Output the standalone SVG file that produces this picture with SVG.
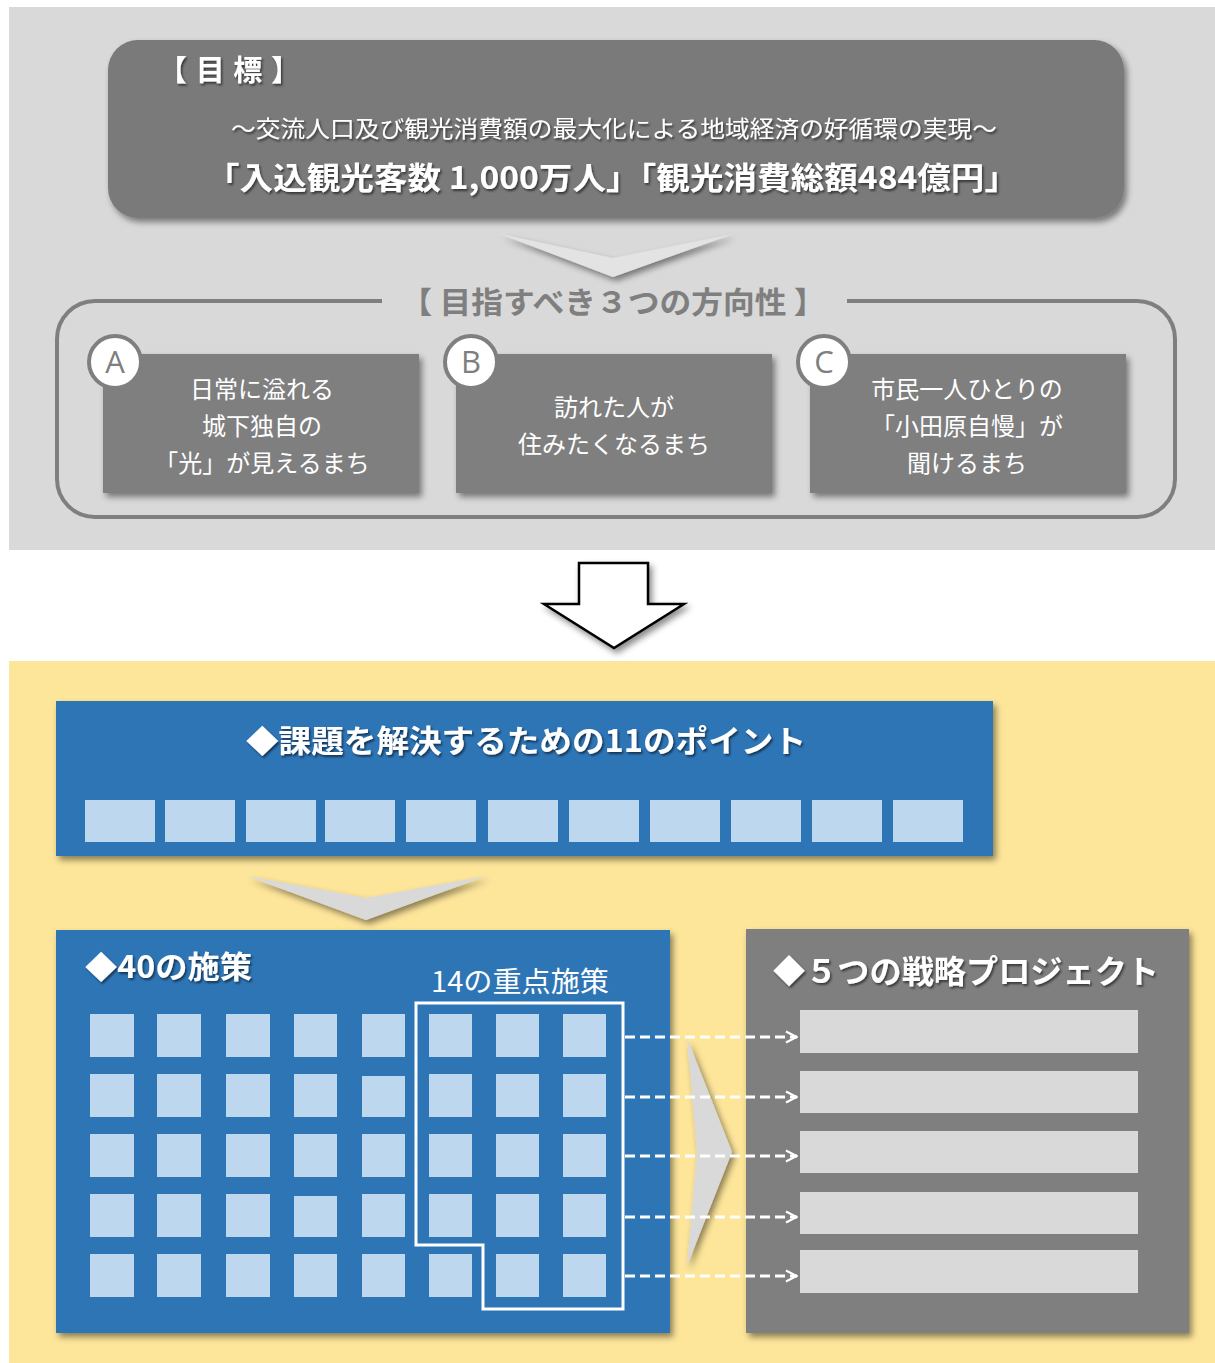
<svg xmlns="http://www.w3.org/2000/svg" width="1215" height="1363" viewBox="0 0 1215 1363">
<defs>
<filter id="sh" x="-10%" y="-10%" width="130%" height="130%"><feDropShadow dx="3" dy="4" stdDeviation="3" flood-color="#000" flood-opacity="0.45"/></filter>
<filter id="tsh" x="-5%" y="-20%" width="110%" height="150%"><feDropShadow dx="1.5" dy="2" stdDeviation="1.2" flood-color="#000" flood-opacity="0.55"/></filter>
<marker id="arr" viewBox="0 0 14 14" refX="13" refY="7" markerWidth="14" markerHeight="14" markerUnits="userSpaceOnUse" orient="auto"><path d="M2,1.5 L12.5,7 L2,12.5" fill="none" stroke="#fff" stroke-width="2.2"/></marker>
</defs>
<style>
.jp{font-family:"Noto Sans CJK JP","Noto Sans",sans-serif}
.wt{fill:#fff}
.card{fill:#7f7f7f}
.ctext{font-size:24px;fill:#fff;text-anchor:middle}
.circ{fill:#fff;stroke:#7f7f7f;stroke-width:4}
.lbl{font-family:"Open Sans","Liberation Sans",sans-serif;font-size:31px;fill:#7f7f7f;text-anchor:middle}
.sq{fill:#bdd7ee}
.bar{fill:#d9d9d9}
.dash{stroke:#fff;stroke-width:3;stroke-dasharray:10,5;fill:none}
</style>
<rect x="0" y="0" width="1215" height="1363" fill="#fff"/>
<rect x="9" y="7" width="1206" height="543" fill="#d9d9d9"/>
<rect x="9" y="661" width="1206" height="702" fill="#fde59a"/>

<g id="goal">
<rect x="108" y="40" width="1016" height="178" rx="30" fill="#7a7a7a" filter="url(#sh)"/>
<text class="jp wt" x="158" y="81" font-size="29" font-weight="bold" textLength="142" lengthAdjust="spacing" filter="url(#tsh)">【目標】</text>
<text class="jp wt" x="614" y="137" font-size="23" text-anchor="middle" textLength="766" lengthAdjust="spacingAndGlyphs" filter="url(#tsh)">～交流人口及び観光消費額の最大化による地域経済の好循環の実現～</text>
<text class="jp wt" x="612" y="189" font-size="31" font-weight="bold" text-anchor="middle" textLength="812" lengthAdjust="spacingAndGlyphs" filter="url(#tsh)">「入込観光客数 1,000万人」「観光消費総額484億円」</text>
</g>

<g id="chevron1">
<polygon points="500,234 613,258 733,234 613,277" fill="#e3e3e3" filter="url(#sh)"/>
</g>

<g id="directions">
<path d="M382,301 H95 A38,38 0 0 0 57,339 V479 A38,38 0 0 0 95,517 H1137 A38,38 0 0 0 1175,479 V339 A38,38 0 0 0 1137,301 H847" fill="none" stroke="#7f7f7f" stroke-width="4"/>
<text class="jp" x="613" y="313" font-size="30" font-weight="bold" fill="#7f7f7f" text-anchor="middle" textLength="425" lengthAdjust="spacingAndGlyphs">【 目指すべき３つの方向性 】</text>
</g>

<g id="cardA">
<rect class="card" x="103" y="354" width="316" height="139" filter="url(#sh)"/>
<circle class="circ" cx="115" cy="362" r="26"/>
<text class="lbl" x="115" y="373">A</text>
<text class="jp ctext" x="262" y="398">日常に溢れる</text>
<text class="jp ctext" x="262" y="435">城下独自の</text>
<text class="jp ctext" x="262" y="472">「光」が見えるまち</text>
</g>
<g id="cardB">
<rect class="card" x="456" y="354" width="316" height="139" filter="url(#sh)"/>
<circle class="circ" cx="471" cy="362" r="26"/>
<text class="lbl" x="471" y="373">B</text>
<text class="jp ctext" x="614" y="416">訪れた人が</text>
<text class="jp ctext" x="614" y="453">住みたくなるまち</text>
</g>
<g id="cardC">
<rect class="card" x="810" y="354" width="316" height="139" filter="url(#sh)"/>
<circle class="circ" cx="824" cy="362" r="26"/>
<text class="lbl" x="824" y="373">C</text>
<text class="jp ctext" x="967" y="398">市民一人ひとりの</text>
<text class="jp ctext" x="967" y="435">「小田原自慢」が</text>
<text class="jp ctext" x="967" y="472">聞けるまち</text>
</g>

<g id="bigArrow">
<polygon points="579,563 648,563 648,604 684,604 614,648 544,604 579,604" fill="#fff" stroke="#000" stroke-width="2.5" stroke-linejoin="miter" filter="url(#sh)"/>
</g>

<g id="points11">
<rect x="56" y="701" width="937" height="155" fill="#2e75b6" filter="url(#sh)"/>
<text class="jp wt" x="526" y="752" font-size="31" font-weight="bold" text-anchor="middle" textLength="560" lengthAdjust="spacingAndGlyphs" filter="url(#tsh)">◆課題を解決するための11のポイント</text>
<rect class="sq" x="85" y="800" width="70" height="42"/>
<rect class="sq" x="165" y="800" width="70" height="42"/>
<rect class="sq" x="246" y="800" width="70" height="42"/>
<rect class="sq" x="325" y="800" width="70" height="42"/>
<rect class="sq" x="406" y="800" width="70" height="42"/>
<rect class="sq" x="488" y="800" width="70" height="42"/>
<rect class="sq" x="569" y="800" width="70" height="42"/>
<rect class="sq" x="650" y="800" width="70" height="42"/>
<rect class="sq" x="731" y="800" width="70" height="42"/>
<rect class="sq" x="812" y="800" width="70" height="42"/>
<rect class="sq" x="893" y="800" width="70" height="42"/>
</g>

<g id="chevron2">
<polygon points="247,876 366,898 486,876 366,920" fill="#d9d9d9" filter="url(#sh)"/>
</g>

<g id="measures40">
<rect x="56" y="930" width="614" height="403" fill="#2e75b6" filter="url(#sh)"/>
<text class="jp wt" x="85" y="978" font-size="31" font-weight="bold" textLength="167" lengthAdjust="spacingAndGlyphs" filter="url(#tsh)">◆40の施策</text>
<text class="jp wt" x="431" y="992" font-size="28" textLength="178" lengthAdjust="spacingAndGlyphs">14の重点施策</text>
<g>
<rect class="sq" x="90" y="1014" width="44" height="43"/><rect class="sq" x="157" y="1014" width="44" height="43"/><rect class="sq" x="226" y="1014" width="44" height="43"/><rect class="sq" x="294" y="1014" width="43" height="43"/><rect class="sq" x="362" y="1014" width="43" height="43"/><rect class="sq" x="429" y="1014" width="43" height="43"/><rect class="sq" x="496" y="1014" width="43" height="43"/><rect class="sq" x="563" y="1014" width="43" height="43"/>
<rect class="sq" x="90" y="1074" width="44" height="43"/><rect class="sq" x="157" y="1074" width="44" height="43"/><rect class="sq" x="226" y="1074" width="44" height="43"/><rect class="sq" x="294" y="1074" width="43" height="43"/><rect class="sq" x="362" y="1076" width="43" height="41"/><rect class="sq" x="429" y="1074" width="43" height="43"/><rect class="sq" x="496" y="1074" width="43" height="43"/><rect class="sq" x="563" y="1074" width="43" height="43"/>
<rect class="sq" x="90" y="1134" width="44" height="43"/><rect class="sq" x="157" y="1134" width="44" height="43"/><rect class="sq" x="226" y="1134" width="44" height="43"/><rect class="sq" x="294" y="1134" width="43" height="43"/><rect class="sq" x="362" y="1134" width="43" height="43"/><rect class="sq" x="429" y="1134" width="43" height="43"/><rect class="sq" x="496" y="1134" width="43" height="43"/><rect class="sq" x="563" y="1134" width="43" height="43"/>
<rect class="sq" x="90" y="1194" width="44" height="43"/><rect class="sq" x="157" y="1194" width="44" height="43"/><rect class="sq" x="226" y="1194" width="44" height="43"/><rect class="sq" x="294" y="1196" width="43" height="41"/><rect class="sq" x="362" y="1194" width="43" height="43"/><rect class="sq" x="429" y="1194" width="43" height="43"/><rect class="sq" x="496" y="1194" width="43" height="43"/><rect class="sq" x="563" y="1194" width="43" height="43"/>
<rect class="sq" x="90" y="1254" width="44" height="43"/><rect class="sq" x="157" y="1254" width="44" height="43"/><rect class="sq" x="226" y="1254" width="44" height="43"/><rect class="sq" x="294" y="1254" width="43" height="43"/><rect class="sq" x="362" y="1254" width="43" height="43"/><rect class="sq" x="429" y="1254" width="43" height="43"/><rect class="sq" x="496" y="1254" width="43" height="43"/><rect class="sq" x="563" y="1254" width="43" height="43"/>
</g>
<polygon points="416,1003 623,1003 623,1309 483,1309 483,1245 416,1245" fill="none" stroke="#fff" stroke-width="3"/>
</g>

<g id="projects5">
<rect x="746" y="929" width="443" height="404" fill="#7f7f7f" filter="url(#sh)"/>
<text class="jp wt" x="773" y="983" font-size="32" font-weight="bold" textLength="386" lengthAdjust="spacingAndGlyphs" filter="url(#tsh)">◆５つの戦略プロジェクト</text>
<rect class="bar" x="800" y="1010" width="338" height="43"/>
<rect class="bar" x="800" y="1071" width="338" height="42"/>
<rect class="bar" x="800" y="1131" width="338" height="42"/>
<rect class="bar" x="800" y="1192" width="338" height="42"/>
<rect class="bar" x="800" y="1250" width="338" height="43"/>
</g>

<g id="chevron3">
<polygon points="687,1038 732,1152 687,1266 697,1152" fill="#d9d9d9" filter="url(#sh)"/>
</g>

<g id="connectors">
<line class="dash" x1="625" y1="1037" x2="797" y2="1037" marker-end="url(#arr)"/>
<line class="dash" x1="625" y1="1097" x2="797" y2="1097" marker-end="url(#arr)"/>
<line class="dash" x1="625" y1="1156" x2="797" y2="1156" marker-end="url(#arr)"/>
<line class="dash" x1="625" y1="1217" x2="797" y2="1217" marker-end="url(#arr)"/>
<line class="dash" x1="625" y1="1276" x2="797" y2="1276" marker-end="url(#arr)"/>
</g>
</svg>
